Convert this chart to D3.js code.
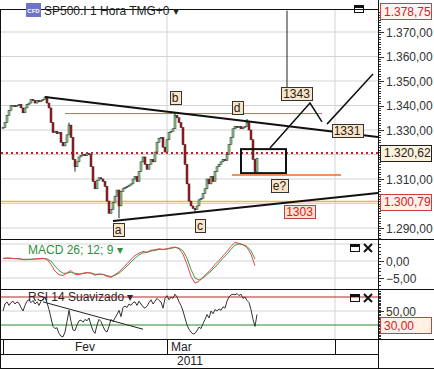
<!DOCTYPE html>
<html>
<head>
<meta charset="utf-8">
<script src="https://cdn.jsdelivr.net/npm/d3@7"></script>
<style>
  body { margin: 0; background: #fff; }
  svg { display: block; font-family: "Liberation Sans", Arial, sans-serif; }
</style>
</head>
<body>
<svg id="chart" width="434" height="369"></svg>
<script>
// hourly closes, one per bar
const closes = [
  1331, 1333, 1336, 1338, 1340, 1340, 1339.5, 1340, 1340.5, 1339,
  1337, 1339, 1340.5, 1341, 1342.5, 1342, 1341, 1342, 1341.5, 1342,
  1342.5, 1343.5, 1341, 1339, 1333, 1329, 1329.5, 1328.5, 1329, 1325,
  1323.5, 1325, 1328, 1332, 1327, 1318, 1315, 1317, 1319, 1319.5,
  1320, 1319.5, 1320.5, 1320, 1315, 1309, 1306, 1309.5, 1310.5, 1310,
  1309, 1307, 1301, 1296, 1297.5, 1300.5, 1303, 1305.5, 1299, 1305,
  1306, 1306.5, 1307, 1307.5, 1308, 1310, 1311, 1309, 1313, 1317,
  1319, 1316, 1314, 1316, 1318, 1317, 1321, 1325, 1326.5, 1327,
  1323, 1321, 1326, 1329, 1329.5, 1330.5, 1336, 1335, 1333, 1331,
  1324, 1316, 1308, 1301, 1299, 1298, 1297.5, 1299, 1301.5, 1302,
  1304, 1306, 1310, 1308, 1311, 1309, 1313, 1315, 1316, 1317,
  1318, 1317.5, 1320, 1324, 1327, 1330.5, 1331.5, 1331, 1331.5, 1330.5,
  1331, 1331.5, 1333, 1330, 1326, 1318, 1313, 1318.5
];
// extreme wicks [bar, price]
const wicks = [[33, 1333], [36, 1313], [58, 1294], [86, 1337], [96, 1296.5], [122, 1334.5], [126, 1312]];

// MACD and signal, one value every 2 bars
const macd = [
  0.8, 0.9, 0.8, 0.7, 0.6, 0.4, 0.4, 0.5, 0.6, 0.7,
  0.8, 0.5, -1.0, -3.0, -4.0, -4.3, -3.5, -2.8, -4.0, -4.0,
  -3.6, -3.4, -3.6, -4.2, -3.8, -4.0, -4.5, -4.8, -4.0, -3.2,
  -2.0, -0.8, 0.5, 1.6, 2.3, 2.8, 2.6, 3.2, 3.3, 3.6,
  3.4, 3.6, 3.9, 4.1, 3.6, 2.0, -1.0, -4.5, -6.5, -6.0,
  -4.8, -3.6, -2.5, -1.0, 0.2, 1.5, 2.8, 4.3, 5.5, 5.2,
  4.8, 4.0, 2.0, -1.4
];
const signal = [
  0.7, 0.8, 0.8, 0.7, 0.7, 0.5, 0.5, 0.5, 0.6, 0.6,
  0.7, 0.6, 0.0, -1.5, -2.8, -3.6, -3.6, -3.3, -3.6, -3.8,
  -3.7, -3.5, -3.5, -3.9, -3.9, -3.9, -4.3, -4.6, -4.2, -3.6,
  -2.6, -1.5, -0.3, 0.8, 1.8, 2.4, 2.5, 2.9, 3.1, 3.4,
  3.4, 3.5, 3.7, 4.0, 3.8, 3.0, 0.8, -2.5, -5.0, -5.6,
  -5.0, -4.0, -3.0, -1.8, -0.5, 0.8, 2.0, 3.4, 4.7, 5.0,
  4.8, 4.3, 3.0, 0.6
];

// smoothed RSI 14, one per bar
const rsi = [
  50, 60, 63, 58, 62, 64, 60, 63, 61, 55,
  50, 58, 64, 66, 62, 65, 60, 63, 58, 64,
  67, 70, 62, 52, 40, 28, 25, 26, 18, 14,
  13, 20, 35, 51, 35, 23, 22, 30, 36, 37,
  34, 38, 36, 40, 30, 22, 18, 30, 38, 35,
  28, 22, 20, 28, 38, 35, 40, 45, 51, 42,
  55, 57, 55, 60, 58, 62, 63, 58, 64, 60,
  56, 54, 57, 62, 66, 60, 64, 68, 65, 63,
  54, 68, 72, 66, 70, 68, 74, 70, 63, 58,
  50, 40, 30, 24, 20, 17, 18, 22, 27, 25,
  32, 38, 45, 40, 50, 46, 52, 50, 53, 51,
  56, 54, 64, 70, 73, 74, 73, 75, 72, 74,
  68, 70, 65, 62, 52, 38, 28, 45
];

const priceTicks = [1290, 1300, 1310, 1320, 1330, 1340, 1350, 1360, 1370];
const macdTicks = [-5, 0];
const macdGrid = [-5, 0, 5];
const rsiTicks = [50];
const monthTicks = [0, 82, 166];
const monthLabels = [{ bar: 41, text: "Fev", anchor: "middle" }, { bar: 84, text: "Mar", anchor: "start" }];
const yearLabel = { bar: 87, text: "2011" };
const title = "SP500.I 1 Hora TMG+0";

const lastPrice = 1320.62;
const supportPrice = 1300.79;
const topPrice = 1378.75;
const resistPrice = 1336.7;
const rsiHigh = 70, rsiLow = 30;

// drawn objects, in [bar, price]
const downTrend = [[21, 1343.5], [187.5, 1327.1]];
const upTrend = [[55, 1292.9], [187.5, 1304.3]];
const resistSpan = [31, 159.5];
const eBox = [[119, 1322.2], [141.5, 1312.4]];
const eLine = { from: 114.5, to: 169, price: 1311.6 };
const projection1 = [[133.5, 1322.7], [153.5, 1341.0], [159.5, 1333.3]];
const projection2 = [[162, 1332.4], [185, 1352.9]];
const vLine = { bar: 142, from: topPrice, to: 1347.1 };
const rsiTrend = [[20, 63], [70, 24]];
const waveTags = [
  { bar: 57.5, price: 1289.2, text: "a" },
  { bar: 86, price: 1343.3, text: "b" },
  { bar: 98.5, price: 1291.2, text: "c" },
  { bar: 117, price: 1339.2, text: "d" },
  { bar: 138.25, price: 1307.3, text: "e?" },
  { bar: 146.75, price: 1344.7, text: "1343" },
  { bar: 172, price: 1329.6, text: "1331" }
];
const redTags = [{ bar: 148.25, price: 1296.7, text: "1303" }];

const plotL = 1, plotR = 378;
const mainTop = 9, mainBot = 239, macdBot = 289, rsiBot = 339, dateBot = 354;

const svg = d3.select("#chart");
const x = d3.scaleLinear().domain([0, 187.5]).range([3, 378]);
const y = d3.scaleLinear().domain([1290, 1370]).range([228, 32]);
const yM = d3.scaleLinear().domain([-5, 0]).range([278, 261]);
const yR = d3.scaleLinear().domain([30, 70]).range([325, 297]);
const loc = d3.formatLocale({ decimal: ",", thousands: ".", grouping: [3], currency: ["", ""] });
const fmt = loc.format(",.2f");

const defs = svg.append("defs");
function clip(id, y0, y1) {
  defs.append("clipPath").attr("id", id).append("rect")
    .attr("x", plotL).attr("y", y0).attr("width", plotR - plotL).attr("height", y1 - y0);
}
clip("cMain", mainTop, mainBot);
clip("cMacd", mainBot, macdBot);
clip("cRsi", macdBot, rsiBot);

const grid = "#d3d3d3";

// horizontal grids
svg.append("g").selectAll("line").data(priceTicks).join("line")
  .attr("x1", plotL).attr("x2", plotR).attr("y1", d => y(d)).attr("y2", d => y(d))
  .attr("stroke", grid);
svg.append("g").selectAll("line").data(macdGrid).join("line")
  .attr("x1", plotL).attr("x2", plotR).attr("y1", d => yM(d)).attr("y2", d => yM(d))
  .attr("stroke", grid);
svg.append("g").selectAll("line").data(rsiTicks).join("line")
  .attr("x1", plotL).attr("x2", plotR).attr("y1", d => yR(d)).attr("y2", d => yR(d))
  .attr("stroke", grid);

// vertical month grid
svg.append("g").selectAll("line").data(monthTicks.slice(1)).join("line")
  .attr("x1", d => x(d)).attr("x2", d => x(d)).attr("y1", mainTop).attr("y2", rsiBot)
  .attr("stroke", grid);

// ---- main panel ----
const main = svg.append("g").attr("clip-path", "url(#cMain)");
const line = d3.line().x(d => x(d[0])).y(d => y(d[1]));

main.append("line")
  .attr("x1", plotL).attr("x2", plotR).attr("y1", y(supportPrice)).attr("y2", y(supportPrice))
  .attr("stroke", "#f2b43a").attr("stroke-width", 1.5);
main.append("line")
  .attr("x1", x(resistSpan[0])).attr("x2", x(resistSpan[1]))
  .attr("y1", y(resistPrice)).attr("y2", y(resistPrice))
  .attr("stroke", "#e05a5a").attr("stroke-width", 1);
main.append("line")
  .attr("x1", plotL).attr("x2", plotR).attr("y1", y(lastPrice)).attr("y2", y(lastPrice))
  .attr("stroke", "#c8202a").attr("stroke-width", 2).attr("stroke-dasharray", "2,3");

// candles
const bars = closes.map((c, i) => {
  const o = i ? closes[i - 1] : c;
  return { i, o, c, hi: Math.max(o, c), lo: Math.min(o, c) };
});
wicks.forEach(([i, p]) => {
  if (p > bars[i].hi) bars[i].hi = p; else if (p < bars[i].lo) bars[i].lo = p;
});
const cg = main.append("g");
cg.selectAll("line").data(bars).join("line")
  .attr("x1", d => x(d.i)).attr("x2", d => x(d.i))
  .attr("y1", d => y(d.hi)).attr("y2", d => y(d.lo))
  .attr("stroke", "#222").attr("stroke-width", 1);
cg.selectAll("rect").data(bars).join("rect")
  .attr("x", d => x(d.i) - 1).attr("width", 2)
  .attr("y", d => y(Math.max(d.o, d.c)))
  .attr("height", d => Math.max(1, Math.abs(y(d.o) - y(d.c))))
  .attr("fill", d => d.c >= d.o ? "#8ed08e" : "#b0141c")
  .attr("stroke", "#2a2a2a").attr("stroke-width", 0.5);

// trend lines
main.append("path").attr("d", line(downTrend)).attr("stroke", "#111").attr("stroke-width", 2).attr("fill", "none");
main.append("path").attr("d", line(upTrend)).attr("stroke", "#111").attr("stroke-width", 2).attr("fill", "none");

// e? box and level
main.append("rect")
  .attr("x", x(eBox[0][0])).attr("y", y(eBox[0][1]))
  .attr("width", x(eBox[1][0]) - x(eBox[0][0])).attr("height", y(eBox[1][1]) - y(eBox[0][1]))
  .attr("fill", "none").attr("stroke", "#111").attr("stroke-width", 2);
main.append("line")
  .attr("x1", x(eLine.from)).attr("x2", x(eLine.to)).attr("y1", y(eLine.price)).attr("y2", y(eLine.price))
  .attr("stroke", "#ee6a2a").attr("stroke-width", 1.5);

// projected path
main.append("path").attr("d", line(projection1)).attr("stroke", "#111").attr("stroke-width", 1.5).attr("fill", "none");
main.append("path").attr("d", line(projection2)).attr("stroke", "#111").attr("stroke-width", 1.5).attr("fill", "none");
main.append("line")
  .attr("x1", x(vLine.bar)).attr("x2", x(vLine.bar)).attr("y1", y(vLine.from)).attr("y2", y(vLine.to))
  .attr("stroke", "#222").attr("stroke-width", 1);

function tag(g, cx, cy, text, fill, stroke, color) {
  const t = g.append("text").attr("x", cx).attr("y", cy + 4.5)
    .attr("text-anchor", "middle").attr("font-size", 12).attr("fill", color).text(text);
  const w = t.node().getComputedTextLength();
  g.insert("rect", () => t.node())
    .attr("x", Math.round(cx - w / 2 - 2) + 0.5).attr("y", Math.round(cy - 6.5) + 0.5)
    .attr("width", Math.round(w + 4)).attr("height", 13)
    .attr("fill", fill).attr("stroke", stroke).attr("stroke-width", 1);
}
const tags = svg.append("g");
waveTags.forEach(d => tag(tags, x(d.bar), y(d.price), d.text, "#fbe5c6", "#333", "#222"));
redTags.forEach(d => tag(tags, x(d.bar), y(d.price), d.text, "#fde2d2", "#b84040", "#d42020"));

// ---- MACD panel ----
const mg = svg.append("g").attr("clip-path", "url(#cMacd)");
const mLine = d3.line().x((d, k) => x(2 * k)).y(d => yM(d));
mg.append("path").attr("d", mLine(signal)).attr("fill", "none").attr("stroke", "#3c9a4a").attr("stroke-width", 1);
mg.append("path").attr("d", mLine(macd)).attr("fill", "none").attr("stroke", "#e04848").attr("stroke-width", 1);
svg.append("text").attr("x", 28).attr("y", 254).attr("font-size", 12).attr("fill", "#2f8f3f")
  .text("MACD 26; 12; 9 \u25BE");

// ---- RSI panel ----
const rg = svg.append("g").attr("clip-path", "url(#cRsi)");
rg.append("line").attr("x1", plotL).attr("x2", plotR).attr("y1", yR(rsiHigh)).attr("y2", yR(rsiHigh))
  .attr("stroke", "#c81e1e").attr("stroke-width", 1.2);
rg.append("line").attr("x1", plotL).attr("x2", plotR).attr("y1", yR(rsiLow)).attr("y2", yR(rsiLow))
  .attr("stroke", "#2a8a2a").attr("stroke-width", 1.2);
rg.append("path").attr("d", d3.line().x((d, i) => x(i)).y(d => yR(d))(rsi))
  .attr("fill", "none").attr("stroke", "#333").attr("stroke-width", 1);
rg.append("path").attr("d", d3.line().x(d => x(d[0])).y(d => yR(d[1]))(rsiTrend))
  .attr("fill", "none").attr("stroke", "#222").attr("stroke-width", 1);
svg.append("text").attr("x", 28).attr("y", 301).attr("font-size", 12).attr("fill", "#2a2a2a")
  .text("RSI 14 Suavizado \u25BE");

// ---- panel frames ----
const frame = svg.append("g").attr("stroke", "#111").attr("stroke-width", 1).attr("shape-rendering", "crispEdges");
[mainTop, mainBot, macdBot, rsiBot].forEach(v =>
  frame.append("line").attr("x1", 0).attr("x2", v === mainTop ? plotR : 434).attr("y1", v + 0.5).attr("y2", v + 0.5));
frame.append("line").attr("x1", 0).attr("x2", plotR).attr("y1", dateBot + 0.5).attr("y2", dateBot + 0.5);
frame.append("line").attr("x1", 0).attr("x2", 434).attr("y1", 368.5).attr("y2", 368.5);
frame.append("line").attr("x1", 0.5).attr("x2", 0.5).attr("y1", mainTop).attr("y2", 369);
frame.append("line").attr("x1", plotR + 0.5).attr("x2", plotR + 0.5).attr("y1", 0).attr("y2", 369);
monthTicks.forEach(b =>
  frame.append("line").attr("x1", Math.round(x(b)) + 0.5).attr("x2", Math.round(x(b)) + 0.5)
    .attr("y1", rsiBot).attr("y2", dateBot));

// ---- right axes ----
const ax = svg.append("g").attr("font-size", 12).attr("fill", "#333");
// labels hidden behind a value box are skipped, as in the source platform
const boxedY = [y(lastPrice), y(supportPrice)];
function axis(scale, lo, hi, minor, labels, y0, y1, hidden) {
  const t = d3.range(lo, hi + 0.001, minor).filter(v => scale(v) > y0 + 2 && scale(v) < y1 - 1);
  ax.append("g").selectAll("line").data(t).join("line")
    .attr("x1", plotR + 1).attr("x2", d => plotR + (labels.includes(d) ? 6 : 3))
    .attr("y1", d => Math.round(scale(d)) + 0.5).attr("y2", d => Math.round(scale(d)) + 0.5)
    .attr("stroke", "#333").attr("shape-rendering", "crispEdges");
  const shown = labels.filter(v => !hidden.some(h => Math.abs(scale(v) - h) < 12));
  ax.append("g").selectAll("text").data(shown).join("text")
    .attr("x", 386).attr("y", d => scale(d) + 4.5).text(d => fmt(d));
}
axis(y, 1286, 1380, 1, priceTicks, mainTop, mainBot, boxedY);
axis(yM, -14, 9, 1, macdTicks, mainBot, macdBot, []);
axis(yR, 0, 100, 2, rsiTicks, macdBot, rsiBot, []);

function valueBox(cy, text, fill, stroke, color) {
  const g = svg.append("g");
  g.append("rect").attr("x", 380.5).attr("y", Math.round(cy - 8) + 0.5).attr("width", 51).attr("height", 16)
    .attr("fill", fill).attr("stroke", stroke);
  g.append("text").attr("x", 384).attr("y", cy + 4.5).attr("font-size", 12).attr("fill", color).text(text);
}
valueBox(11, fmt(topPrice), "#fff4f0", "#d43c3c", "#d42020");
valueBox(y(lastPrice), fmt(lastPrice), "#fdf3dc", "#222", "#222");
valueBox(y(supportPrice), fmt(supportPrice), "#fff0e8", "#d43c3c", "#d42020");
valueBox(yR(rsiLow), fmt(rsiLow), "#fff0e8", "#d43c3c", "#d42020");

// ---- date axis ----
const dg = svg.append("g").attr("font-size", 12).attr("fill", "#222");
monthLabels.forEach(m => dg.append("text").attr("x", x(m.bar)).attr("y", 351).attr("text-anchor", m.anchor).text(m.text));
dg.append("text").attr("x", x(yearLabel.bar)).attr("y", 365).text(yearLabel.text);

// ---- title and window icons ----
const ic = svg.append("g");
ic.append("rect").attr("x", 26).attr("y", 3).attr("width", 15).attr("height", 14).attr("fill", "#6e74c8");
ic.append("text").attr("x", 33.5).attr("y", 13).attr("text-anchor", "middle").attr("font-size", 6)
  .attr("font-weight", "bold").attr("fill", "#fff").text("CFD");
svg.append("text").attr("x", 44).attr("y", 15).attr("font-size", 12).attr("fill", "#222").text(title + " \u25BE");

function winIcons(yy, withClose) {
  const g = svg.append("g").attr("stroke", "#111").attr("fill", "none").attr("shape-rendering", "crispEdges");
  const bx = withClose ? 350 : 354;
  g.append("rect").attr("x", bx + 0.5).attr("y", yy + 0.5).attr("width", 9).attr("height", 7);
  g.append("line").attr("x1", bx).attr("x2", bx + 10).attr("y1", yy + 2).attr("y2", yy + 2).attr("stroke-width", 2);
  if (withClose) {
    g.append("path").attr("d", `M${bx + 14},${yy} l8,8 M${bx + 22},${yy} l-8,8`).attr("stroke-width", 2)
      .attr("shape-rendering", "auto");
  }
}
winIcons(5, false);
winIcons(244, true);
winIcons(294, true);
</script>
</body>
</html>
